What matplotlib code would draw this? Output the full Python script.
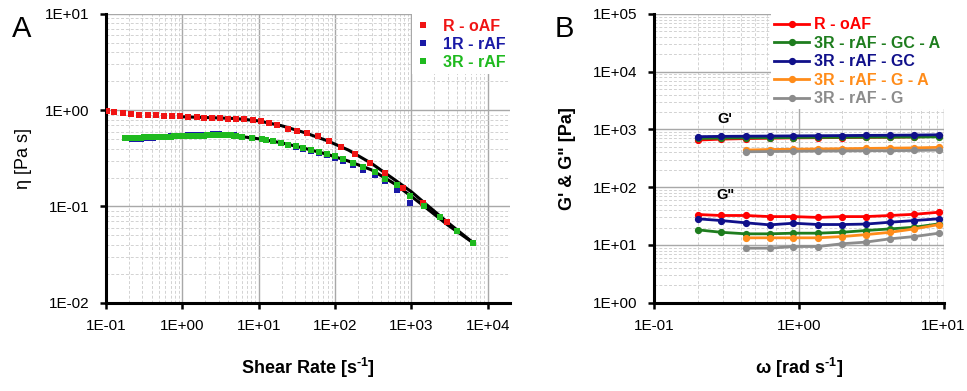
import numpy as np
import matplotlib
matplotlib.use("Agg")
import matplotlib.pyplot as plt
from matplotlib.ticker import FixedLocator, FuncFormatter, NullFormatter
from matplotlib.lines import Line2D

plt.rcParams["font.family"] = ["Liberation Sans", "DejaVu Sans"]
plt.rcParams["mathtext.fontset"] = "custom"
plt.rcParams["mathtext.rm"] = "Liberation Sans:bold"
plt.rcParams["mathtext.bf"] = "Liberation Sans:bold"

# ------------------------------------------------------------
# Panel A: viscosity vs shear rate
# ------------------------------------------------------------
red_x = [0.102, 0.128, 0.166, 0.212, 0.273, 0.352, 0.451, 0.574, 0.724, 0.931,
         1.19, 1.54, 1.94, 2.46, 3.10, 3.99, 5.04, 6.40, 8.32, 10.6,
         13.6, 17.1, 24.3, 31.3, 42.4, 60.1, 83.8, 119, 182, 285,
         449, 778, 1420, 2880]
red_y = [0.984, 0.960, 0.937, 0.923, 0.902, 0.887, 0.887, 0.873, 0.873, 0.866,
         0.852, 0.852, 0.839, 0.839, 0.832, 0.819, 0.819, 0.806, 0.787, 0.768,
         0.744, 0.710, 0.644, 0.610, 0.580, 0.536, 0.475, 0.415, 0.354, 0.285,
         0.222, 0.157, 0.109, 0.0687]

blue_x = [0.18, 0.20, 0.22, 0.24, 0.26, 0.29, 0.31, 0.34, 0.37, 0.41,
          0.45, 0.49, 0.54, 0.59, 0.64, 0.70, 0.77, 0.84, 0.92, 1.0,
          1.1, 1.2, 1.3, 1.45, 1.6, 1.75, 1.9, 2.1, 2.3, 2.5,
          2.75, 3.0, 3.3, 3.6, 3.95, 4.3, 4.7, 5.1,
          12.4, 15.5, 19.4, 24.3, 30.7, 38.3, 48.2, 62.0, 77.4, 99.4,
          128, 173, 233, 332, 449, 638, 953]
blue_y = [0.512, 0.510, 0.508, 0.507, 0.507, 0.508, 0.510, 0.512, 0.515, 0.518,
          0.521, 0.524, 0.527, 0.530, 0.533, 0.536, 0.538, 0.540, 0.542, 0.544,
          0.546, 0.548, 0.550, 0.552, 0.554, 0.556, 0.557, 0.558, 0.559, 0.560,
          0.560, 0.560, 0.559, 0.558, 0.556, 0.554, 0.550, 0.545,
          0.490, 0.474, 0.455, 0.433, 0.418, 0.398, 0.380, 0.358, 0.343, 0.320,
          0.296, 0.270, 0.242, 0.212, 0.182, 0.148, 0.108]

green_x = [0.18, 0.20, 0.22, 0.24, 0.26, 0.29, 0.31, 0.34, 0.37, 0.41,
           0.45, 0.49, 0.54, 0.59, 0.64, 0.70, 0.77, 0.84, 0.92, 1.0,
           1.1, 1.2, 1.3, 1.45, 1.6, 1.75, 1.9, 2.1, 2.3, 2.5,
           2.75, 3.0, 3.3, 3.6, 3.95, 4.3, 4.7, 5.1,
           5.97, 8.07, 10.9, 12.4, 15.5, 19.4, 24.3, 30.7, 38.3, 48.2,
           62.0, 77.4, 99.4, 128, 173, 233, 332, 449, 638, 953,
           1466, 2355, 3890, 6430]
green_y = [0.515, 0.516, 0.517, 0.518, 0.519, 0.520, 0.521, 0.522, 0.524, 0.525,
           0.527, 0.528, 0.530, 0.531, 0.532, 0.533, 0.535, 0.536, 0.537, 0.538,
           0.540, 0.541, 0.542, 0.543, 0.544, 0.545, 0.546, 0.547, 0.547, 0.548,
           0.548, 0.549, 0.549, 0.549, 0.548, 0.547, 0.545, 0.542,
           0.527, 0.519, 0.499, 0.494, 0.479, 0.460, 0.439, 0.425, 0.405, 0.389,
           0.368, 0.354, 0.332, 0.309, 0.285, 0.257, 0.228, 0.194, 0.166, 0.130,
           0.1007, 0.0774, 0.0562, 0.0419]

# black fitted curves
fit_red_x = [1.0, 2.0, 5.0, 10.0, 20.0, 40.0, 80.0, 150, 300, 600, 1000, 1500, 3000, 6430]
fit_red_y = [0.855, 0.840, 0.820, 0.775, 0.690, 0.585, 0.480, 0.385, 0.280, 0.190, 0.142, 0.108, 0.068, 0.0419]
fit_grn_x = [4.6, 10.0, 20.0, 40.0, 80.0, 150, 300, 600, 1000, 1500, 3000, 6430]
fit_grn_y = [0.545, 0.505, 0.458, 0.402, 0.347, 0.296, 0.240, 0.172, 0.127, 0.099, 0.064, 0.0419]

# ------------------------------------------------------------
# Panel B: G' and G'' vs angular frequency
# ------------------------------------------------------------
omega = [0.2, 0.29, 0.43, 0.63, 0.92, 1.36, 2.0, 2.9, 4.3, 6.3, 9.3]
omega_short = omega[2:]

gp_R_oAF   = [655, 680, 695, 705, 715, 720, 725, 730, 735, 745, 757]
gp_GC_A    = [700, 710, 715, 720, 725, 730, 730, 735, 735, 740, 745]
gp_GC      = [750, 760, 765, 770, 775, 780, 785, 790, 795, 800, 810]
gp_G_A     = [440, 450, 455, 460, 465, 470, 475, 480, 490]
gp_G       = [411, 415, 420, 422, 425, 428, 430, 433, 440]

gpp_R_oAF  = [33.7, 32.4, 32.4, 31.0, 31.0, 30.0, 31.0, 31.0, 32.4, 34.0, 36.9]
gpp_GC_A   = [18.3, 16.6, 15.6, 15.6, 16.0, 16.0, 16.6, 17.8, 19.0, 20.3, 23.2]
gpp_GC     = [28.4, 26.5, 24.2, 22.3, 23.8, 22.6, 22.6, 23.0, 24.8, 26.5, 28.4]
gpp_G_A    = [13.3, 13.3, 13.3, 13.3, 14.0, 15.1, 16.6, 19.0, 22.6]
gpp_G      = [8.8, 8.8, 9.4, 9.4, 10.5, 11.2, 12.8, 14.0, 16.0]

series_B = [
    ("R - oAF",            "#ff0000", omega,       gp_R_oAF, gpp_R_oAF),
    ("3R - rAF - GC - A",  "#1e7d1e", omega,       gp_GC_A,  gpp_GC_A),
    ("3R - rAF - GC",      "#10108a", omega,       gp_GC,    gpp_GC),
    ("3R - rAF - G - A",   "#ff8c1a", omega_short, gp_G_A,   gpp_G_A),
    ("3R - rAF - G",       "#8c8c8c", omega_short, gp_G,     gpp_G),
]

# ------------------------------------------------------------
# helpers
# ------------------------------------------------------------
def sci_fmt(v, pos):
    return f"1E{int(round(np.log10(v))):+03d}"


def style_log_axes(ax, xdec, ydec):
    """xdec / ydec: decade exponents from axis start to axis end (inclusive)."""
    ax.set_xscale("log")
    ax.set_yscale("log")
    for s in ["top", "right"]:
        ax.spines[s].set_visible(False)
    for s in ["left", "bottom"]:
        ax.spines[s].set_linewidth(2.2)
    ax.xaxis.set_major_locator(FixedLocator([10.0 ** d for d in xdec]))
    ax.yaxis.set_major_locator(FixedLocator([10.0 ** d for d in ydec]))
    minors_x = [m * 10.0 ** d for d in xdec for m in range(2, 10)]
    minors_y = [m * 10.0 ** d for d in ydec for m in range(2, 10)]
    ax.xaxis.set_minor_locator(FixedLocator(minors_x))
    ax.yaxis.set_minor_locator(FixedLocator(minors_y))
    ax.xaxis.set_major_formatter(FuncFormatter(sci_fmt))
    ax.yaxis.set_major_formatter(FuncFormatter(sci_fmt))
    ax.xaxis.set_minor_formatter(NullFormatter())
    ax.yaxis.set_minor_formatter(NullFormatter())
    ax.tick_params(which="major", length=4, width=1.8, labelsize=11, pad=8)
    ax.tick_params(which="minor", length=0)
    ax.grid(which="major", color="#a8a8a8", linewidth=1.0)
    ax.grid(which="minor", color="#d2d2d2", linewidth=0.7, linestyle=(0, (3, 2)))
    ax.set_axisbelow(True)


fig = plt.figure(figsize=(9.67, 3.91), dpi=100)
axA = fig.add_axes([0.1096, 0.2258, 0.4178, 0.7384])
axB = fig.add_axes([0.6763, 0.2258, 0.2994, 0.7384])

# ---- Panel A
style_log_axes(axA, range(-1, 5), range(-2, 2))
axA.set_xlim(0.1, 10 ** 4.29)
axA.set_ylim(0.01, 10)

ms = 4.3
axA.plot(fit_red_x, fit_red_y, color="black", lw=2.2, zorder=2)
axA.plot(fit_grn_x, fit_grn_y, color="black", lw=2.2, zorder=2)
axA.plot(red_x, red_y, ls="none", marker="s", ms=ms, color="#f01414", mew=0, zorder=3)
axA.plot(blue_x, blue_y, ls="none", marker="s", ms=ms, color="#1a1aa6", mew=0, zorder=3)
axA.plot(green_x, green_y, ls="none", marker="s", ms=ms, color="#1fba1f", mew=0, zorder=4)

hA = [Line2D([0], [0], ls="none", marker="s", ms=ms, color=c, mew=0)
      for c in ["#f01414", "#1a1aa6", "#1fba1f"]]
legA = axA.legend(hA, ["R - oAF", "1R - rAF", "3R - rAF"], loc="upper right",
                  bbox_to_anchor=(1.0, 1.0), borderaxespad=0.0, frameon=True,
                  fancybox=False, edgecolor="none", facecolor="white", framealpha=1,
                  prop={"weight": "bold", "size": 11.5}, labelcolor="markerfacecolor",
                  handlelength=0.8, handletextpad=0.8, labelspacing=0.18,
                  borderpad=0.3)

axA.set_xlabel(r"Shear Rate [s$^{\text{-1}}$]", fontsize=13, fontweight="bold", labelpad=16)
axA.set_ylabel("η [Pa s]", fontsize=13, labelpad=9)

# ---- Panel B
style_log_axes(axB, range(-1, 1), range(0, 5))
axB.xaxis.set_major_locator(FixedLocator([0.1, 1, 10]))
axB.yaxis.set_major_locator(FixedLocator([1, 10, 100, 1e3, 1e4, 1e5]))
axB.set_xlim(0.1, 10)
axB.set_ylim(1, 1e5)

for label, color, xs, gp, gpp in series_B:
    axB.plot(xs, gp, color=color, lw=2.0, marker="o", ms=4.2, zorder=3, clip_on=False)
    axB.plot(xs, gpp, color=color, lw=2.0, marker="o", ms=4.2, zorder=3, clip_on=False)

hB = [Line2D([0], [0], color=c, lw=2.0, marker="o", ms=4.2) for _, c, *_ in series_B]
legB = axB.legend(hB, [s[0] for s in series_B], loc="upper right",
                  bbox_to_anchor=(1.0, 1.0), borderaxespad=0.0, frameon=True,
                  fancybox=False, edgecolor="none", facecolor="white", framealpha=1,
                  prop={"weight": "bold", "size": 11.5}, labelcolor="linecolor",
                  handlelength=2.2, handletextpad=0.3, labelspacing=0.22,
                  borderpad=0.2)

axB.text(0.31, 1530, "G'", fontsize=10.5, fontweight="bold", ha="center", va="center")
axB.text(0.31, 72, 'G"', fontsize=10.5, fontweight="bold", ha="center", va="center")

axB.set_xlabel(r"ω [rad s$^{\text{-1}}$]", fontsize=13, fontweight="bold", labelpad=16)
axB.set_ylabel('G\' & G" [Pa]', fontsize=13, fontweight="bold", labelpad=12)

fig.text(0.012, 0.962, "A", fontsize=21, va="top", ha="left")
fig.text(0.574, 0.962, "B", fontsize=21, va="top", ha="left")

fig.savefig("out.png", dpi=100)
